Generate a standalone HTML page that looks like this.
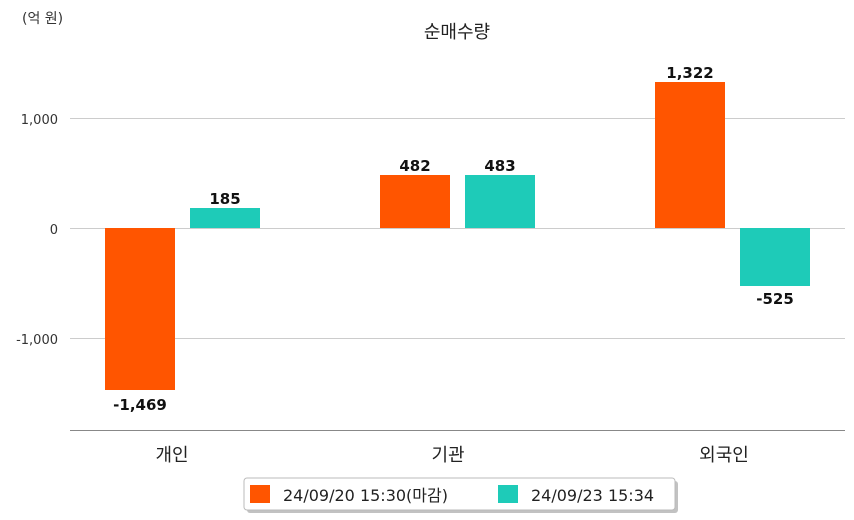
<!DOCTYPE html>
<html><head><meta charset="utf-8"><style>
body{margin:0;background:#fff;}
svg{display:block;font-family:"DejaVu Sans","Noto Sans CJK KR",sans-serif;}
</style></head><body>
<svg width="854" height="520" viewBox="0 0 854 520" xmlns="http://www.w3.org/2000/svg">
<rect width="854" height="520" fill="#fff"/>
<text x="22" y="23" font-size="14" fill="#333">(억 원)</text>
<text x="457" y="38" font-size="18" fill="#222" text-anchor="middle">순매수량</text>
<g stroke="#ccc" stroke-width="1">
<line x1="70" y1="118.5" x2="845" y2="118.5"/>
<line x1="70" y1="228.5" x2="845" y2="228.5"/>
<line x1="70" y1="338.5" x2="845" y2="338.5"/>
</g>
<line x1="70" y1="430.5" x2="845" y2="430.5" stroke="#888" stroke-width="1"/>
<g font-size="13" fill="#333" text-anchor="end">
<text x="58" y="124">1,000</text>
<text x="58" y="234">0</text>
<text x="58" y="344">-1,000</text>
</g>
<g fill="#FF5500">
<rect x="105" y="228" width="70" height="162"/>
<rect x="380" y="175" width="70" height="53"/>
<rect x="655" y="82" width="70" height="146"/>
</g>
<g fill="#1ECBB8">
<rect x="190" y="208" width="70" height="20"/>
<rect x="465" y="175" width="70" height="53"/>
<rect x="740" y="228" width="70" height="58"/>
</g>
<g font-size="15" font-weight="bold" fill="#111" text-anchor="middle">
<text x="140" y="410">-1,469</text>
<text x="225" y="204">185</text>
<text x="415" y="171">482</text>
<text x="500" y="171">483</text>
<text x="690" y="78">1,322</text>
<text x="775" y="304">-525</text>
</g>
<g font-size="18" fill="#222" text-anchor="middle">
<text x="172" y="461">개인</text>
<text x="448" y="461">기관</text>
<text x="724" y="461">외국인</text>
</g>
<rect x="247" y="481" width="431" height="32" rx="3" fill="#999" opacity="0.6"/>
<rect x="244" y="478" width="431" height="32" rx="3" fill="#fff" stroke="#bbb"/>
<rect x="250" y="485" width="20" height="18" fill="#FF5500"/>
<text x="283" y="501" font-size="16" fill="#222">24/09/20 15:30(마감)</text>
<rect x="498" y="485" width="20" height="18" fill="#1ECBB8"/>
<text x="531" y="501" font-size="16" fill="#222">24/09/23 15:34</text>
</svg>
</body></html>
